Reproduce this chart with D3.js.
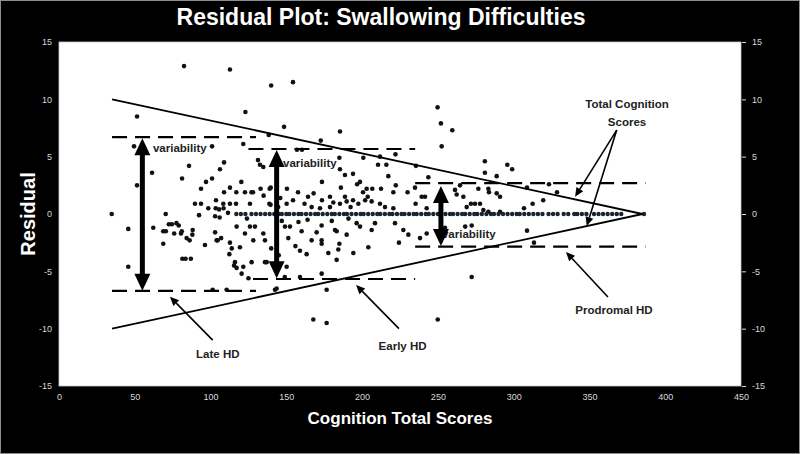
<!DOCTYPE html>
<html><head><meta charset="utf-8">
<script src="https://cdn.jsdelivr.net/npm/d3@7"></script>
<style>html,body{margin:0;padding:0;background:#000;} svg{display:block;font-family:"Liberation Sans",Arial,sans-serif;}</style>
</head><body><svg id="c" width="800" height="454"></svg>
<script>
// ---------- data ----------
const xTicks = [0, 50, 100, 150, 200, 250, 300, 350, 400, 450];
const yTicks = [-15, -10, -5, 0, 5, 10, 15];

// residuals scattered off the zero line [cognition score, residual]
const scatterPoints = [
  [82.5,12.9],[112.8,12.6],[140,11.2],[154.4,11.5],[123,8.9],[51.5,8.5],[148.5,7.6],[185.4,7.2],[138.4,6.9],[172.7,6.4],
  [121.6,6.1],[49.5,5.9],[101,5.9],[157,5.6],[160.3,5.6],[131.3,4.7],[108.9,4.5],[85.8,4.2],[106.2,3.9],[134.8,4.1],
  [132.6,4.3],[61.4,3.6],[81.2,3.1],[101,3.1],[97,2.8],[120.3,2.8],[51.5,2.5],[93.7,2.2],[112.8,2.3],[108.9,1.9],
  [117,1.9],[122.7,1.9],[127,1.9],[133,2.2],[139.7,2.3],[89.7,0.9],[93.7,0.9],[103.6,1.2],[108.4,0.9],[112.8,0.9],
  [126,0.9],[138.8,0.9],[98.5,0.5],[103.4,0.5],[105.6,0.4],[108.6,0.5],[34.8,0],[70.4,0],[92.4,-0.1],[103,-0.2],
  [106,-0.3],[111.5,0.1],[72.5,-0.9],[74.5,-0.9],[77.5,-0.8],[79,-1.0],[45.7,-1.3],[62.2,-1.2],[68.8,-1.5],[70.5,-1.5],
  [81,-1.5],[76,-1.7],[80.5,-1.7],[88.2,-1.4],[88,-1.8],[103,-1.6],[104.7,-2.3],[107,-2.1],[84.2,-2.1],[86.2,-2.3],
  [68.8,-2.6],[96.3,-2.7],[112.8,-2.5],[114,-3.0],[112.4,-3.5],[81.4,-3.9],[83.5,-3.9],[87,-3.9],[45.7,-4.6],[115.5,-4.5],
  [117.2,-4.7],[120.5,-5.2],[101.4,-6.6],[110.6,-6.6],[142.5,-6.6],[125,-5.6],[129.3,-1.1],[124,-0.4],
  [185.4,3.9],[188.7,3.4],[194,3.5],[185,4.9],[200.8,4.9],[173.5,2.8],[196.7,2.6],[198.6,2.8],[128,1.9],[139,2.2],
  [150.4,2.2],[157.7,1.9],[164.3,1.5],[173.5,1.2],[178.8,1.5],[188.7,1.5],[194,1.2],[200.6,1.9],[116.8,0.9],[139.6,0.8],
  [144.6,0.6],[150.2,0.9],[154.4,1.2],[166.7,0.6],[172.2,0.5],[178.8,0.6],[185.4,0.9],[189.8,1.1],[192.4,0.6],[197.5,0.9],
  [202,1.2],[117.2,-1.1],[122.7,-1.7],[126,-1.1],[128.2,-2.3],[134.8,-1.7],[135.9,-2.3],[149.1,-1.1],[151.3,-2.1],[152.4,-1.1],
  [160.1,-1.5],[166.7,-2.3],[173.3,-1.0],[173.3,-2.3],[173.3,-2.6],[182.1,-1.4],[183.2,-1.5],[189.8,-1.8],[196.4,-0.8],[198.6,-1.1],
  [194.2,-3.4],[159,-3.2],[163.4,-3.5],[177.7,-3.4],[184.3,-3.1],[183.2,-4.0],[119.4,-2.9],[116.1,-4.2],[121.6,-4.6],[127.1,-4.2],
  [135.9,-4.2],[150.2,-4.6],[173.3,-5.2],[143.6,-6.5],[176.6,-6.6],[167.8,-9.2],[176.6,-9.5],[149,-5.5],[159,-5.5],[137,-4.2],
  [104,-2.3],[135,1.6],[146,1.4],[162,0.9],[168,1.8],[181,1.0],[186,2.3],[203,2.2],[147,-0.6],[158,-0.7],
  [164,-0.5],[180,-0.6],[191,-0.4],[185,-2.6],[170,-1.6],[156,-2.8],[140,-3.0],[145,-3.6],
  [249.8,9.3],[252,7.9],[259.5,7.3],[252.5,5.9],[222,5.2],[211.8,5.0],[210.5,4.3],[216,4.3],[235.5,4.2],[217.3,3.3],
  [281,4.6],[281,3.6],[288.8,3.3],[243.7,3.2],[222.2,2.5],[206.7,2.2],[212.5,2.2],[234.9,2.3],[230,1.9],[220.6,1.9],
  [239.3,1.5],[241.5,1.5],[264.6,2.5],[261.3,2.1],[262.4,1.7],[266.8,1.5],[276.7,2.2],[283.3,2.2],[283.7,1.9],[288.8,1.8],
  [203.7,1.5],[206.3,1.1],[211.8,0.9],[215.1,0.6],[220.6,0.5],[235.3,0.9],[242.6,0.5],[269,0.6],[271.8,0.9],[274.5,0.9],
  [277.8,0.9],[280,0.35],[283.3,0.2],[208.5,-0.8],[206.3,-1.4],[204.1,-2.9],[221.7,-0.8],[227.2,-1.4],[230.5,-1.8],[224.3,-2.5],
  [238.2,-2.1],[242.6,-1.7],[254.7,-1.2],[268,-1.1],[272.3,-1.0],[272.3,-5.5],[249.9,-9.2],
  [295.8,4.3],[299,3.9],[291,1.5],[308.8,2.3],[323.3,2.6],[328.6,1.9],[306.8,0.5],[312.5,0.9],[319.5,1.2],[291,0.2],
  [308.8,-1.45],[313.4,-2.5]
];

// cognition scores with a residual of exactly 0
const zeroRowX = [117,120,123,127,130,133,136,139,142,145,147,150,152,155,158,160,163,166,169,171,174,177,180,182,185,188,190,193,
  196,199,201,204,207,210,212,215,218,220,223,226,228,231,234,236,239,242,244,247,250,252,255,258,260,263,266,268,271,274,276,
  279,282,285,287,290,293,296,299,302,304,307,310,313,316,319,323,326,329,333,336,340,342,345,348,353,356,359,362,365,368,371,386];

// fan of residual spread
const fanUpper = [[35, 10], [385, 0]];
const fanLower = [[35, -10], [385, 0]];

// disease stage variability bands
const stageNames = ["Late HD", "Early HD", "Prodromal HD"];
const bandUpperY = [6.7, 5.67, 2.7];
const bandLowerY = [-6.7, -5.67, -2.85];
const bandUpperX = [[35, 130], [125, 235], [235, 387]];
const bandLowerX = [[35, 130], [128, 235], [235, 387]];
const arrowX = [55, 143.6, 252];
const arrowTop = [6.6, 5.58, 2.44];
const arrowBottom = [-6.7, -5.6, -2.79];
const variabilityAt = [[62, 5.75], [147.8, 4.45], [252.7, -1.74]];

// callout labels (data coordinates)
const stageLabelAt = [[104.8, -12.2], [226.7, -11.5], [366.2, -8.4]];
const stagePointerFrom = [[101.4, -11.0], [224.3, -10.0], [362.2, -7.24]];
const stagePointerTo = [[73.2, -7.21], [196, -6.19], [334.5, -3.31]];
const totalLabel = ["Total Cognition", "Scores"];
const totalLabelAt = [[374.8, 9.55], [374.8, 8.05]];
const totalPointerFrom = [368, 7.32];
const totalPointerTo = [[340.5, 1.51], [348.2, -1.05]];

// ---------- drawing ----------
const W = 800, H = 454;
const plot = {l: 59, r: 741, t: 42, b: 386};
const svg = d3.select("#c");
const x = d3.scaleLinear().domain([0, 450]).range([plot.l, plot.r]);
const y = d3.scaleLinear().domain([-15, 15]).range([plot.b, plot.t]);

svg.append("rect").attr("x",0).attr("y",0).attr("width",W).attr("height",H).attr("fill","#000");
svg.append("rect").attr("x",0.5).attr("y",0.5).attr("width",W-1).attr("height",H-1)
  .attr("fill","none").attr("stroke","#8c8c8c").attr("stroke-width",1);
svg.append("rect").attr("x",plot.l).attr("y",plot.t).attr("width",plot.r-plot.l).attr("height",plot.b-plot.t)
  .attr("fill","#fff").attr("stroke","#c8c8c8").attr("stroke-width",0.8);

// title and axis titles
svg.append("text").attr("x",381).attr("y",25).attr("text-anchor","middle")
  .attr("fill","#fff").attr("font-size",23).attr("font-weight","bold").text("Residual Plot: Swallowing Difficulties");
svg.append("text").attr("x",400).attr("y",424).attr("text-anchor","middle")
  .attr("fill","#fff").attr("font-size",17).attr("font-weight","bold").text("Cognition Total Scores");
svg.append("text").attr("transform","translate(35,214) rotate(-90)").attr("text-anchor","middle")
  .attr("fill","#fff").attr("font-size",20).attr("font-weight","bold").text("Residual");

// axes
const fmt = d => String(d);
function styleAxis(g){
  g.select(".domain").remove();
  g.selectAll("text").attr("fill","#d8d8d8").attr("font-size",9).attr("font-family","'Liberation Sans',Arial,sans-serif");
  g.selectAll("line").attr("stroke","#d8d8d8");
}
svg.append("g").attr("transform",`translate(${plot.l},0)`)
  .call(d3.axisLeft(y).tickValues(yTicks).tickFormat(fmt).tickSize(0).tickPadding(7)).call(styleAxis);
svg.append("g").attr("transform",`translate(${plot.r+1},0)`)
  .call(d3.axisRight(y).tickValues(yTicks).tickFormat(fmt).tickSize(4).tickPadding(6)).call(styleAxis);
svg.append("g").attr("transform",`translate(0,${plot.b})`)
  .call(d3.axisBottom(x).tickValues(xTicks).tickFormat(fmt).tickSize(0).tickPadding(8)).call(styleAxis);

const gPlot = svg.append("g");

// points
gPlot.append("g").selectAll("circle").data(scatterPoints).join("circle")
  .attr("cx", d => x(d[0])).attr("cy", d => y(d[1])).attr("r", 2.3).attr("fill", "#111");
gPlot.append("g").selectAll("circle").data(zeroRowX).join("circle")
  .attr("cx", d => x(d)).attr("cy", y(0)).attr("r", 2.2).attr("fill", "#1a2330");

// fan lines
const line = d3.line().x(d => x(d[0])).y(d => y(d[1]));
[fanUpper, fanLower].forEach(f => gPlot.append("path").attr("d", line(f))
  .attr("fill","none").attr("stroke","#000").attr("stroke-width",1.8));

// dashed band lines
stageNames.forEach((n, i) => {
  [[bandUpperX[i], bandUpperY[i]], [bandLowerX[i], bandLowerY[i]]].forEach(([xs, yv]) => {
    gPlot.append("line").attr("x1", x(xs[0])).attr("x2", x(xs[1])).attr("y1", y(yv)).attr("y2", y(yv))
      .attr("stroke","#000").attr("stroke-width",2.2).attr("stroke-dasharray","15,8");
  });
});

// variability labels
variabilityAt.forEach(p => gPlot.append("text").attr("x", x(p[0])).attr("y", y(p[1]))
  .attr("dominant-baseline","central").attr("font-size",11.5).attr("font-weight","bold")
  .attr("fill","#222").text("variability"));

// double-headed variability arrows
stageNames.forEach((n, i) => {
  const cx = x(arrowX[i]), t = y(arrowTop[i]), b = y(arrowBottom[i]);
  const hl = 17, hw = 8;
  gPlot.append("line").attr("x1",cx).attr("x2",cx).attr("y1",t+hl-1).attr("y2",b-hl+1)
    .attr("stroke","#000").attr("stroke-width",5);
  gPlot.append("path").attr("d",`M${cx},${t}L${cx-hw},${t+hl}L${cx+hw},${t+hl}Z`).attr("fill","#000");
  gPlot.append("path").attr("d",`M${cx},${b}L${cx-hw},${b-hl}L${cx+hw},${b-hl}Z`).attr("fill","#000");
});

// pointer arrows
function pointer(from, to){
  const x1 = x(from[0]), y1 = y(from[1]), x2 = x(to[0]), y2 = y(to[1]);
  const ang = Math.atan2(y2 - y1, x2 - x1), L = 9, Wd = 4;
  const bx = x2 - L*Math.cos(ang), by = y2 - L*Math.sin(ang);
  gPlot.append("line").attr("x1",x1).attr("y1",y1).attr("x2",bx).attr("y2",by)
    .attr("stroke","#000").attr("stroke-width",1.6);
  const px = -Math.sin(ang)*Wd, py = Math.cos(ang)*Wd;
  gPlot.append("path").attr("d",`M${x2},${y2}L${bx+px},${by+py}L${bx-px},${by-py}Z`).attr("fill","#000");
}
stageNames.forEach((n, i) => {
  pointer(stagePointerFrom[i], stagePointerTo[i]);
  gPlot.append("text").attr("x", x(stageLabelAt[i][0])).attr("y", y(stageLabelAt[i][1]))
    .attr("text-anchor","middle").attr("dominant-baseline","central")
    .attr("font-size",11.5).attr("font-weight","bold").attr("fill","#222").text(n);
});
totalPointerTo.forEach(t => pointer(totalPointerFrom, t));
totalLabel.forEach((s, i) => gPlot.append("text").attr("x", x(totalLabelAt[i][0])).attr("y", y(totalLabelAt[i][1]))
  .attr("text-anchor","middle").attr("dominant-baseline","central")
  .attr("font-size",11.5).attr("font-weight","bold").attr("fill","#222").text(s));
</script></body></html>
